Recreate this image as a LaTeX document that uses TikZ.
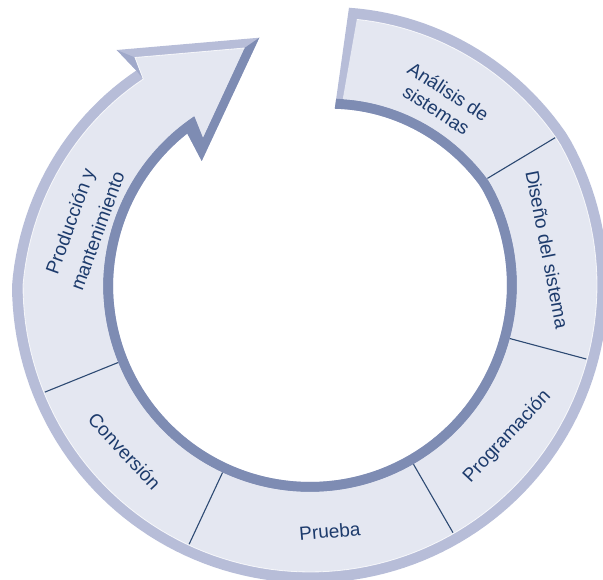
\documentclass[tikz,border=0pt]{standalone}
\usepackage{fontspec}
\setmainfont{Liberation Sans}
\usetikzlibrary{positioning}

\definecolor{ringface}{HTML}{E4E7F1}
\definecolor{ringlight}{HTML}{B7BDD8}
\definecolor{ringmid}{HTML}{A0A9CA}
\definecolor{ringdark}{HTML}{7E8CB3}
\definecolor{ringline}{HTML}{2D4A73}
\definecolor{ringtext}{HTML}{1D3B6C}

% radius of the outer and inner rim, by angle
\pgfmathdeclarefunction{rout}{1}{%
  \pgfmathparse{298-18*max(0,((#1)-30)/52)-22*max(0,(-180-(#1))/51)}}
\pgfmathdeclarefunction{rin}{1}{%
  \pgfmathparse{197-19*max(0,((#1)-30)/52)-2*max(0,(-180-(#1))/51)}}

\begin{document}
\begin{tikzpicture}[x=1pt,y=1pt,
    steplabel/.style={text=ringtext,font=\fontsize{19}{22}\selectfont,
      align=center,inner sep=0pt},
    divider/.style={draw=ringline,line width=1.1pt},
    rimplot/.style={samples=160,variable=\t}
  ]
  \useasboundingbox (0,0) rectangle (603,579);
  \clip (0,0) rectangle (603,579);
  \coordinate (C) at (310,294);

  % arrow head corners
  \coordinate (barb) at (116.7,529);
  \coordinate (tip) at (259.3,541.3);
  \coordinate (ibarb) at (201.7,418);
  \coordinate (ftip) at (244.5,531);
  \coordinate (fbarb) at (135,521.5);
  \coordinate (fibarb) at (203,441.5);
  \coordinate (fnotch) at (194.5,462.8);
  \coordinate (notch) at ({310+rout(-231)*cos(-231)},{294+rout(-231)*sin(-231)});
  \coordinate (onotch) at ({310+(rout(-231)-11)*cos(-231)},{294+(rout(-231)-11)*sin(-231)});

  % light outer rim = whole shape
  \fill[ringlight] plot[rimplot,domain=82:-231] ({310+rout(\t)*cos(\t)},{294+rout(\t)*sin(\t)})
    -- (barb) -- (tip) -- (ibarb)
    -- plot[rimplot,domain=-231:82] ({310+rin(\t)*cos(\t)},{294+rin(\t)*sin(\t)}) -- cycle;

  % dark inner rim
  \fill[ringdark] plot[rimplot,domain=82:-231] ({310+rin(\t)*cos(\t)},{294+rin(\t)*sin(\t)})
    -- (ibarb) -- (tip) -- (ftip) -- (fibarb) -- (fnotch)
    -- plot[rimplot,domain=-235.3:82] ({310+(rin(\t)+10)*cos(\t)},{294+(rin(\t)+10)*sin(\t)}) -- cycle;

  % underside of the outer barb
  \fill[ringmid] (notch) -- (barb) -- (fbarb) -- (onotch) -- cycle;

  % face
  \fill[ringface] plot[rimplot,domain=80:-231] ({310+(rout(\t)-11)*cos(\t)},{294+(rout(\t)-11)*sin(\t)})
    -- (fbarb) -- (ftip) -- (fibarb) -- (fnotch)
    -- plot[rimplot,domain=-235.3:80] ({310+(rin(\t)+10)*cos(\t)},{294+(rin(\t)+10)*sin(\t)}) -- cycle;
  \draw[white,line width=0.8pt,opacity=0.8]
    plot[rimplot,domain=80:-231] ({310+(rout(\t)-11)*cos(\t)},{294+(rout(\t)-11)*sin(\t)})
    -- (fbarb) -- (ftip);

  % dividers between the steps
  \foreach \a in {31,-15,-60,-115,-158}
    \draw[divider] ([shift={(\a:207)}]C) -- ([shift={(\a:286)}]C);

  \node[steplabel,rotate=-33] (analisis) at ([shift={(54.3:227)}]C) {Análisis de\\sistemas};
  \node[steplabel,rotate=-79] (diseno) at ([shift={(8.5:240)}]C) {Diseño del sistema};
  \node[steplabel,rotate=47] (programacion) at ([shift={(-37.6:249)}]C) {Programación};
  \node[steplabel,rotate=5] (prueba) at ([shift={(-85.4:247)}]C) {Prueba};
  \node[steplabel,rotate=-47] (conversion) at ([shift={(-138.1:249)}]C) {Conversión};
  \node[steplabel,rotate=70] (produccion) at ([shift={(165.4:234)}]C) {Producción y\\[7pt]mantenimiento};
\end{tikzpicture}
\end{document}
